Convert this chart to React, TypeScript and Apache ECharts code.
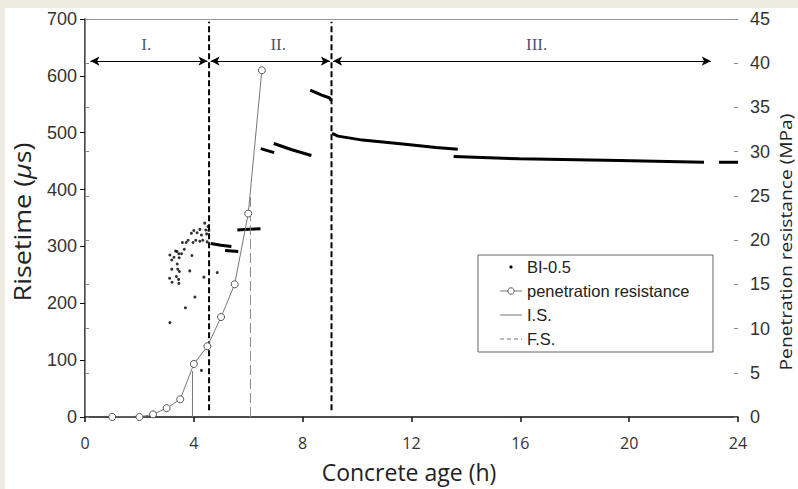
import React, { useEffect, useRef } from "react";
import * as echarts from "echarts";

// ---- data ----
// penetration resistance (MPa) vs concrete age (h)
const penetration: [number, number][] = [
  [1, 0], [2, 0], [2.5, 0.3], [3, 1], [3.5, 2], [4, 6], [4.5, 8], [5, 11.3], [5.5, 15], [6, 23], [6.5, 39.2],
];
// initial set / final set markers (h, MPa)
const initialSet: [number, number][] = [[3.95, 0], [3.95, 5.2]];
const finalSet: [number, number][] = [[6.08, 0], [6.08, 25]];

// BI-0.5 risetime, scattered early readings (h, µs)
const biScatter: [number, number][] = [
  [3.12, 166], [3.69, 192], [4.04, 211], [4.28, 82], [4.86, 254], [4.37, 246], [3.11, 244], [3.2, 237],
  [3.36, 247], [3.44, 242], [3.45, 235], [3.19, 260], [3.41, 260], [3.47, 256], [3.85, 257], [3.39, 269],
  [3.12, 285], [3.19, 276], [3.27, 281], [3.33, 292], [3.38, 291], [3.45, 287], [3.46, 280], [3.55, 287],
  [3.65, 295], [3.93, 284], [3.58, 307], [3.72, 307], [3.79, 311], [3.97, 307], [4.07, 311], [4.22, 309],
  [4.33, 311], [4.49, 308], [3.91, 323], [4.0, 328], [4.12, 324], [4.22, 330], [4.28, 320], [4.4, 341],
  [4.44, 329], [4.52, 335], [4.55, 328], [4.47, 322],
];
// BI-0.5 risetime, dense reading segments (h, µs)
const biSegA: [number, number][] = [[4.62, 305], [5.0, 302], [5.38, 300]];
const biSegB: [number, number][] = [[5.15, 293], [5.63, 291]];
const biSegC: [number, number][] = [[5.6, 329], [6.0, 330], [6.45, 331]];
const biSegD: [number, number][] = [[6.46, 472], [6.95, 465]];
const biSegE: [number, number][] = [[6.94, 481], [7.6, 470], [8.32, 460]];
const biSegF: [number, number][] = [[8.28, 575], [8.7, 566], [9.0, 561], [9.05, 556]];
const biSegG: [number, number][] = [[9.08, 499], [9.3, 494], [10.2, 487], [11.68, 480], [12.9, 474], [13.7, 471]];
const biSegH: [number, number][] = [[13.55, 458], [15.96, 454], [19.63, 451], [22.75, 448]];
const biSegI: [number, number][] = [[23.3, 448], [24, 448]];
const biSegments = [biSegA, biSegB, biSegC, biSegD, biSegE, biSegF, biSegG, biSegH, biSegI];

// phases
const phaseBounds = [4.56, 9.06];
const phaseArrows: [number, number][] = [[0.2, 4.5], [4.62, 9.0], [9.12, 23.0]];
const phaseNames = ["I.", "II.", "III."];
const phaseLabelX = [2.25, 7.1, 16.6];
const phaseLabelY = 655;
const arrowY = 626;

const legendNames = ["BI-0.5", "penetration resistance", "I.S.", "F.S."];

export default function App() {
  const ref = useRef<HTMLDivElement>(null);
  useEffect(() => {
    if (!ref.current) return;
    const chart = echarts.init(ref.current, undefined, { renderer: "svg" });
    const numFont = "Liberation Sans";
    const titleFont = "Open Sans";

    const series: any[] = [];
    series.push({
      name: "BI-0.5",
      type: "scatter",
      data: biScatter,
      symbolSize: 3,
      itemStyle: { color: "#000" },
      silent: true,
      z: 3,
    });
    biSegments.forEach((seg) => {
      series.push({
        name: "BI-0.5",
        type: "line",
        data: seg,
        symbol: "none",
        lineStyle: { color: "#000", width: 3 },
        silent: true,
        z: 3,
      });
    });
    phaseBounds.forEach((b, i) => {
      series.push({
        name: "phase boundary " + (i + 1),
        type: "line",
        data: [[b, 12], [b, 695]],
        symbol: "none",
        lineStyle: { color: "#000", width: 2, type: [6, 3] },
        silent: true,
        z: 2,
        markLine:
          i === 0
            ? {
                silent: true,
                symbol: ["arrow", "arrow"],
                symbolSize: [7, 9],
                label: { show: false },
                lineStyle: { color: "#000", width: 1, type: "solid" },
                data: phaseArrows.map(([a, c]) => [{ coord: [a, arrowY] }, { coord: [c, arrowY] }]),
              }
            : undefined,
      });
    });
    series.push({
      name: "phases",
      type: "scatter",
      data: phaseNames.map((n, i) => ({ name: n, value: [phaseLabelX[i], phaseLabelY] })),
      symbolSize: 1,
      itemStyle: { color: "rgba(0,0,0,0)" },
      label: {
        show: true,
        position: "inside",
        formatter: "{b}",
        fontFamily: "Liberation Serif",
        fontSize: 17,
        color: "#1c1c48",
      },
      silent: true,
    });
    series.push({
      name: "I.S.",
      type: "line",
      yAxisIndex: 1,
      data: initialSet,
      symbol: "none",
      lineStyle: { color: "#777", width: 1 },
      silent: true,
      z: 4,
    });
    series.push({
      name: "F.S.",
      type: "line",
      yAxisIndex: 1,
      data: finalSet,
      symbol: "none",
      lineStyle: { color: "#888", width: 1, type: [10, 4] },
      silent: true,
      z: 4,
    });
    series.push({
      name: "penetration resistance",
      type: "line",
      yAxisIndex: 1,
      data: penetration,
      symbol: "circle",
      symbolSize: 7,
      itemStyle: { color: "#fff", borderColor: "#555", borderWidth: 1 },
      lineStyle: { color: "#777", width: 1 },
      silent: true,
      z: 5,
    });

    // legend drawn as graphic
    const lx = 478, ly = 255, lw = 235, lh = 97;
    const iconX1 = 500, iconX2 = 522, textX = 527;
    const rowY = [267, 291, 315, 339];
    const els: any[] = [
      { type: "rect", shape: { x: lx, y: ly, width: lw, height: lh }, style: { fill: "#fff", stroke: "#666", lineWidth: 1 }, z: 100 },
      { type: "circle", shape: { cx: 511, cy: rowY[0], r: 1.6 }, style: { fill: "#000" }, z: 101 },
      { type: "line", shape: { x1: iconX1, y1: rowY[1], x2: iconX2, y2: rowY[1] }, style: { stroke: "#777", lineWidth: 1 }, z: 101 },
      { type: "circle", shape: { cx: 511, cy: rowY[1], r: 3.2 }, style: { fill: "#fff", stroke: "#555", lineWidth: 1 }, z: 102 },
      { type: "line", shape: { x1: iconX1, y1: rowY[2], x2: iconX2, y2: rowY[2] }, style: { stroke: "#777", lineWidth: 1 }, z: 101 },
      { type: "line", shape: { x1: iconX1, y1: rowY[3], x2: iconX2, y2: rowY[3] }, style: { stroke: "#777", lineWidth: 1, lineDash: [4, 3] }, z: 101 },
    ];
    legendNames.forEach((n, i) => {
      els.push({
        type: "text",
        x: textX,
        y: rowY[i],
        z: 101,
        style: {
          text: n,
          fontFamily: numFont,
          fontSize: 16.5,
          fill: "#222",
          align: "left",
          verticalAlign: "middle",
          textAlign: "left",
          textVerticalAlign: "middle",
        },
      });
    });
    // axis titles
    els.push({
      type: "text",
      x: 22,
      y: 222,
      rotation: Math.PI / 2,
      scaleX: 1.12,
      style: {
        text: "Risetime ({i|\u00b5}s)",
        rich: { i: { fontStyle: "italic", fontFamily: titleFont, fontSize: 24, fill: "#222" } },
        fontFamily: titleFont,
        fontSize: 24,
        fill: "#222",
        align: "center",
        verticalAlign: "middle",
        textAlign: "center",
        textVerticalAlign: "middle",
      },
    });
    els.push({
      type: "text",
      x: 786,
      y: 242,
      rotation: Math.PI / 2,
      scaleX: 1.2,
      style: {
        text: "Penetration resistance (MPa)",
        fontFamily: titleFont,
        fontSize: 16,
        fill: "#222",
        align: "center",
        verticalAlign: "middle",
        textAlign: "center",
        textVerticalAlign: "middle",
      },
    });
    els.push({
      type: "text",
      x: 409,
      y: 472,
      style: {
        text: "Concrete age (h)",
        fontFamily: titleFont,
        fontSize: 23,
        fill: "#222",
        align: "center",
        verticalAlign: "middle",
        textAlign: "center",
        textVerticalAlign: "middle",
      },
    });

    chart.setOption({
      animation: false,
      grid: { left: 85, right: 60, top: 19, bottom: 72, containLabel: false },
      xAxis: [
        {
          type: "value",
          min: 0,
          max: 24,
          interval: 4,
          axisLine: { show: true, onZero: false, lineStyle: { color: "#111", width: 1.5 } },
          axisTick: { show: true, length: 5, lineStyle: { color: "#111", width: 1.5 } },
          axisLabel: { margin: 18, color: "#333", fontSize: 16, fontFamily: titleFont },
          splitLine: { show: false },
        },
        {
          type: "value",
          position: "top",
          min: 0,
          max: 24,
          interval: 4,
          axisLine: { show: true, onZero: false, lineStyle: { color: "#999", width: 1 } },
          axisTick: { show: false },
          axisLabel: { show: false },
          splitLine: { show: false },
        },
      ],
      yAxis: [
        {
          type: "value",
          position: "left",
          min: 0,
          max: 700,
          interval: 100,
          axisLine: { show: true, lineStyle: { color: "#111", width: 1.5 } },
          axisTick: { show: true, length: 5, lineStyle: { color: "#111", width: 1 } },
          axisLabel: { margin: 8, color: "#333", fontSize: 18, fontFamily: numFont },
          splitLine: { show: false },
        },
        {
          type: "value",
          position: "right",
          min: 0,
          max: 45,
          interval: 5,
          axisLine: { show: true, lineStyle: { color: "#888", width: 1 } },
          axisTick: { show: true, length: 4, lineStyle: { color: "#888", width: 1 } },
          axisLabel: { margin: 12, color: "#333", fontSize: 18, fontFamily: numFont },
          splitLine: { show: false },
        },
        {
          type: "value",
          position: "right",
          min: 0,
          max: 45,
          interval: 5,
          axisLine: { show: false },
          axisTick: { show: true, inside: true, length: 4, lineStyle: { color: "#888", width: 1 } },
          axisLabel: { show: false },
          splitLine: { show: false },
        },
      ],
      series,
      graphic: els,
    });
    return () => chart.dispose();
  }, []);

  return (
    <div style={{ position: "fixed", left: 0, top: 0, width: 798, height: 489, background: "#eeece1" }}>
      <div style={{ position: "absolute", left: 5, top: 8, right: 0, bottom: 0, background: "#fff" }} />
      <div ref={ref} style={{ position: "absolute", left: 0, top: 0, width: 798, height: 489 }} />
    </div>
  );
}
